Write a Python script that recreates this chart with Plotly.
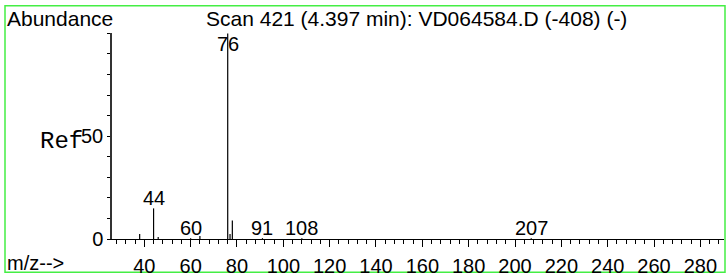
import plotly.graph_objects as go

# ---- data ----
mz = [38, 44, 46, 60, 64, 76, 77, 78, 91, 108, 207]
abundance = [2.4, 14.9, 1.0, 0.4, 1.5, 100.0, 2.4, 9.0, 0.4, 0.4, 0.4]
labeled_peaks = [44, 60, 76, 91, 108, 207]
title_text = "Scan 421 (4.397 min): VD064584.D (-408) (-)"

# ---- layout geometry (pixels) ----
W, H = 727, 280
L, R, T, B = 112, 3, 33, 36
pw, ph = W - L - R, H - T - B

def px_to_paper_x(px):
    return (px - L) / pw

def px_to_paper_y(py):
    return (H - B - py) / ph

FONT = "Liberation Sans, Arial, sans-serif"

xs, ys = [], []
for m, v in zip(mz, abundance):
    xs += [m, m, None]
    ys += [0, v, None]

fig = go.Figure()
fig.add_trace(go.Scatter(x=xs, y=ys, mode="lines",
                         line=dict(color="black", width=1.2),
                         hoverinfo="skip", showlegend=False))

annotations = []
for m, v in zip(mz, abundance):
    if m in labeled_peaks:
        annotations.append(dict(x=m, y=min(v, 90), xref="x", yref="y",
                                text=str(m), showarrow=False,
                                yanchor="bottom", xanchor="center",
                                font=dict(family=FONT, size=20, color="black"),
                                yshift=-3))

annotations += [
    dict(x=px_to_paper_x(5), y=px_to_paper_y(18), xref="paper", yref="paper",
         text="Abundance", showarrow=False, xanchor="left", yanchor="middle",
         font=dict(family=FONT, size=21, color="black")),
    dict(x=px_to_paper_x(204), y=px_to_paper_y(18), xref="paper", yref="paper",
         text=title_text, showarrow=False, xanchor="left", yanchor="middle",
         font=dict(family=FONT, size=21, color="black")),
    dict(x=px_to_paper_x(5), y=px_to_paper_y(269), xref="paper", yref="paper",
         text="m/z-->", showarrow=False, xanchor="left", yanchor="middle",
         font=dict(family=FONT, size=20, color="black")),
    dict(x=px_to_paper_x(85), y=px_to_paper_y(144), xref="paper", yref="paper",
         text="Ref", showarrow=False, xanchor="right", yanchor="middle",
         font=dict(family="Liberation Mono, Courier New, monospace", size=24, color="black")),
]

fig.update_layout(
    width=W, height=H,
    margin=dict(l=L, r=R, t=T, b=B, pad=0),
    paper_bgcolor="white", plot_bgcolor="white",
    annotations=annotations,
    shapes=[dict(type="rect", xref="paper", yref="paper",
                 x0=px_to_paper_x(5), x1=px_to_paper_x(725),
                 y0=px_to_paper_y(278), y1=px_to_paper_y(5),
                 line=dict(color="#44ee44", width=1.5), layer="below")],
    xaxis=dict(range=[26.06, 290.2], showgrid=False, zeroline=False,
               showline=True, linecolor="black", linewidth=1,
               tick0=0, dtick=20, ticks="outside", ticklen=7, tickcolor="black",
               ticklabelstandoff=2,
               tickfont=dict(family=FONT, size=20, color="black"),
               minor=dict(dtick=4, tick0=0, ticks="outside", ticklen=4, tickcolor="black"),
               fixedrange=True),
    yaxis=dict(range=[0, 100.2], showgrid=False, zeroline=False,
               showline=True, linecolor="#333333", linewidth=1.5,
               tickvals=[0, 50], ticktext=["0", "50"],
               ticks="outside", ticklen=3, tickcolor="black",
               tickfont=dict(family=FONT, size=20, color="black"),
               minor=dict(dtick=10, tick0=0, ticks="outside", ticklen=3, tickcolor="black"),
               fixedrange=True),
)

fig.write_html("out.html", config={"displayModeBar": False},
               post_script="document.body.style.margin='0px';document.body.style.overflow='hidden';")
